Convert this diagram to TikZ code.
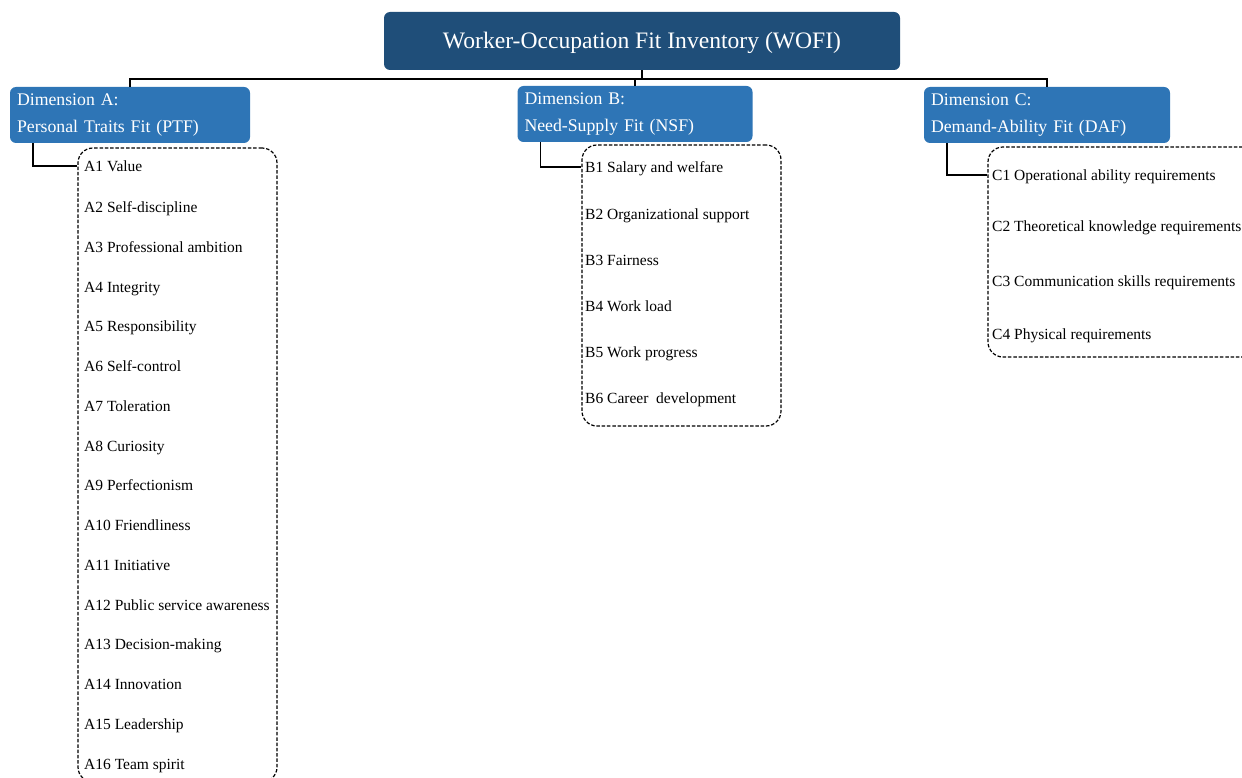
\documentclass[tikz,border=0pt]{standalone}
\usepackage{fontspec}
\setmainfont{Liberation Serif}
\usepackage{tikz}
\definecolor{rootblue}{RGB}{31,78,121}
\definecolor{dimblue}{RGB}{46,117,182}
\newcommand\itemfont{\fontsize{15.5}{18}\selectfont}

\begin{document}
\begin{tikzpicture}[x=1pt, y=-1pt,
    root/.style = {fill=rootblue, text=white, rounded corners=6pt, minimum width=516pt, minimum height=58pt, text height=20pt, text depth=4pt, font=\fontsize{23.6}{28}\selectfont},
    dim/.style = {fill=dimblue, text=white, rounded corners=6pt, minimum width=240pt, minimum height=56pt, inner xsep=7pt, text width=226pt, align=left, font=\fontsize{17.75}{27}\selectfont},
    list/.style = {draw, dash pattern=on 3.5pt off 1.8pt, line width=1.2pt, rounded corners=15pt},
    item/.style = {anchor=west, inner sep=0pt, text height=15pt, text depth=3pt, font=\itemfont},
    link/.style = {draw, line width=1.4pt}]
    \useasboundingbox (0,0) rectangle (1242,778);

    \node at (642,41) [root] (root) {Worker-Occupation Fit Inventory (WOFI)};

    \node at (130,115) [dim] (dimA) {Dimension A:\\Personal Traits Fit (PTF)};
    \node at (635,114) [dim, minimum width=235pt, text width=221pt] (dimB) {Dimension B:\\Need-Supply Fit (NSF)};
    \node at (1047,115) [dim, minimum width=246pt, text width=232pt] (dimC) {Dimension C:\\Demand-Ability Fit (DAF)};

    %Dashed lists
    \node at (177.5,465) [list, minimum width=199pt, minimum height=634pt] (listA) {};
    \node at (681.5,285.5) [list, minimum width=199pt, minimum height=281pt] (listB) {};
    \node at (1125.5,252) [list, minimum width=275pt, minimum height=210pt] (listC) {};

    %Dimension A
    \node at (84,166) [item] (a1) {A1 Value};
    \node at (84,206) [item] (a2) {A2 Self-discipline};
    \node at (84,246) [item] (a3) {A3 Professional ambition};
    \node at (84,286) [item] (a4) {A4 Integrity};
    \node at (84,325) [item] (a5) {A5 Responsibility};
    \node at (84,365) [item] (a6) {A6 Self-control};
    \node at (84,405) [item] (a7) {A7 Toleration};
    \node at (84,445) [item] (a8) {A8 Curiosity};
    \node at (84,484) [item] (a9) {A9 Perfectionism};
    \node at (84,524) [item] (a10) {A10 Friendliness};
    \node at (84,564) [item] (a11) {A11 Initiative};
    \node at (84,604) [item] (a12) {A12 Public service awareness};
    \node at (84,643) [item] (a13) {A13 Decision-making};
    \node at (84,683) [item] (a14) {A14 Innovation};
    \node at (84,723) [item] (a15) {A15 Leadership};
    \node at (84,763) [item] (a16) {A16 Team spirit};

    %Dimension B
    \node at (585,167) [item] (b1) {B1 Salary and welfare};
    \node at (585,213) [item] (b2) {B2 Organizational support};
    \node at (585,259) [item] (b3) {B3 Fairness};
    \node at (585,305) [item] (b4) {B4 Work load};
    \node at (585,351) [item] (b5) {B5 Work progress};
    \node at (585,397) [item] (b6) {B6 Career\ \ development};

    %Dimension C
    \node at (992,175) [item] (c1) {C1 Operational ability requirements};
    \node at (992,226) [item] (c2) {C2 Theoretical knowledge requirements};
    \node at (992,280) [item] (c3) {C3 Communication skills requirements};
    \node at (992,333) [item] (c4) {C4 Physical requirements};

    %Tree
    \draw[link] (root.south) -- ++(0,9) -| (dimA.north);
    \draw[link] (root.south) -- ++(0,9) -| (dimB.north);
    \draw[link] (root.south) -- ++(0,9) -| (dimC.north);

    \draw[link] ([xshift=23pt]dimA.south west) |- (a1 -| listA.west);
    \draw[link] ([xshift=23pt]dimB.south west) |- (b1 -| listB.west);
    \draw[link] ([xshift=23pt]dimC.south west) |- (c1 -| listC.west);

\end{tikzpicture}
\end{document}
